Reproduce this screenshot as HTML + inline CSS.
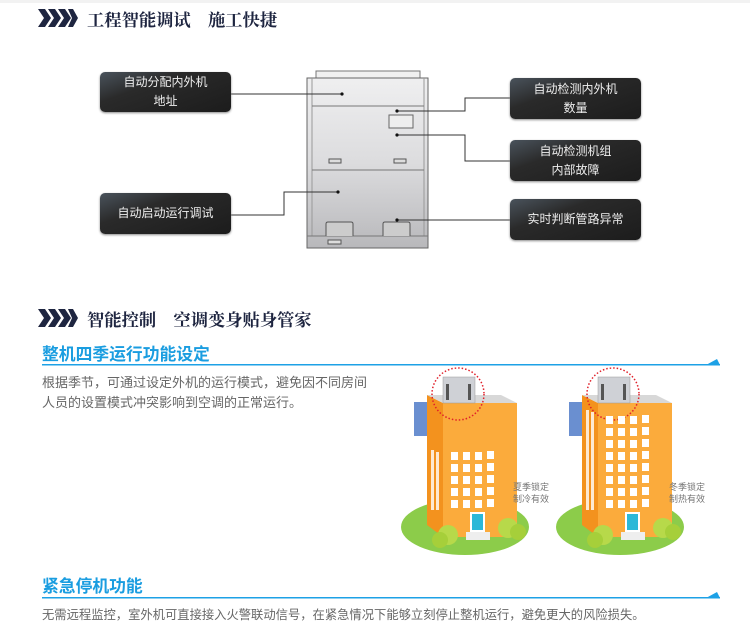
<!DOCTYPE html>
<html><head><meta charset="utf-8"><style>
body{margin:0;width:750px;height:631px;background:#fff;position:relative;overflow:hidden;font-family:"Liberation Sans","Noto Sans CJK SC",sans-serif}
.t{position:absolute;font-family:"Liberation Serif","Noto Serif CJK SC",serif;font-weight:bold;font-size:17.3px;color:#1e2540;white-space:nowrap}
.box{position:absolute;width:131px;border-radius:5px;background:linear-gradient(160deg,#4a535c 0%,#2a2a2a 35%,#1c1c1c 100%);color:#eee;font-size:12px;text-align:center;line-height:19px;display:flex;align-items:center;justify-content:center;box-shadow:0 1px 2px #888}
.sub{position:absolute;left:42px;font-size:16.8px;font-weight:bold;color:#1a9de0;white-space:nowrap}
.p{position:absolute;left:42px;font-size:13px;color:#666;white-space:nowrap}
.sm{position:absolute;font-size:9px;color:#777;line-height:12px}
</style></head><body>
<div style="position:absolute;left:0;top:0;width:750px;height:3px;background:#f2f2f2"></div>
<svg width="750" height="631" style="position:absolute;left:0;top:0">
<g fill="#1e2540">
<polygon points="38,9 45,9 51,18 45,27 38,27 44,18"/><polygon points="48,9 55,9 61,18 55,27 48,27 54,18"/><polygon points="58,9 65,9 71,18 65,27 58,27 64,18"/><polygon points="68,9 73,9 78,18 73,27 68,27 72,18"/>
<polygon points="38,309 45,309 51,318 45,327 38,327 44,318"/><polygon points="48,309 55,309 61,318 55,327 48,327 54,318"/><polygon points="58,309 65,309 71,318 65,327 58,327 64,318"/><polygon points="68,309 73,309 78,318 73,327 68,327 72,318"/>
</g>
<defs><linearGradient id="ug" x1="0" y1="0" x2="0" y2="1"><stop offset="0" stop-color="#efeff0"/><stop offset="0.5" stop-color="#dcdcde"/><stop offset="1" stop-color="#b8b8bb"/></linearGradient></defs>
<rect x="316" y="71" width="104" height="7" fill="#f0f0f0" stroke="#777"/>
<rect x="307" y="78" width="121" height="170" fill="url(#ug)" stroke="#666"/>
<line x1="312" y1="78" x2="312" y2="236" stroke="#999"/><line x1="424" y1="78" x2="424" y2="236" stroke="#999"/>
<line x1="312" y1="106" x2="424" y2="106" stroke="#777"/><line x1="312" y1="170" x2="424" y2="170" stroke="#777"/>
<line x1="307" y1="236" x2="428" y2="236" stroke="#777"/>
<rect x="389" y="115" width="24" height="13" fill="#eee" stroke="#666"/>
<rect x="329" y="159" width="12" height="4" fill="#ddd" stroke="#555"/><rect x="394" y="159" width="12" height="4" fill="#ddd" stroke="#555"/>
<path d="M326,236 V224 Q326,222 328,222 H351 Q353,222 353,224 V236" fill="#ccc" stroke="#555"/>
<path d="M383,236 V224 Q383,222 385,222 H408 Q410,222 410,224 V236" fill="#ccc" stroke="#555"/>
<rect x="328" y="240" width="13" height="4" fill="#ddd" stroke="#555"/>
<g stroke="#333" stroke-width="1" fill="none">
<polyline points="231,94 342,94"/>
<polyline points="397,111 465,111 465,98 510,98"/>
<polyline points="397,135 465,135 465,161 510,161"/>
<polyline points="231,215 284,215 284,192 338,192"/>
<polyline points="397,220 510,220"/>
</g>
<g fill="#111"><circle cx="342" cy="94" r="1.6"/><circle cx="397" cy="111" r="1.6"/><circle cx="397" cy="135" r="1.6"/><circle cx="338" cy="192" r="1.6"/><circle cx="397" cy="220" r="1.6"/></g>
<g fill="#1da1e6"><rect x="42" y="364" width="678" height="1.5"/><polygon points="706,365 717,359 720,365"/>
<rect x="42" y="597" width="678" height="1.5"/><polygon points="706,598 717,592 720,598"/></g>
<g id="b1">
<ellipse cx="465" cy="527" rx="64" ry="28" fill="#8ccc4a"/>
<rect x="414" y="402" width="13" height="34" fill="#6a8fd0"/>
<polygon points="427,395 443,403 443,537 427,525" fill="#f3921e"/>
<polygon points="427,395 501,395 517,403 443,403" fill="#d8d8d8"/>
<rect x="443" y="403" width="74" height="134" fill="#fbab3c"/>
<rect x="443" y="377" width="32" height="26" fill="#cfd1d6" stroke="#999" stroke-width="0.5"/>
<rect x="446" y="384" width="3" height="16" fill="#555"/><rect x="468" y="384" width="3" height="16" fill="#555"/>
<circle cx="458" cy="394" r="26" fill="none" stroke="#e0202a" stroke-width="1.5" stroke-dasharray="1.5,2"/>
<g fill="#fff"><rect x="451" y="452" width="7" height="8"/><rect x="463" y="452" width="7" height="8"/><rect x="475" y="452" width="7" height="8"/><rect x="487" y="451" width="7" height="8"/>
<rect x="451" y="464" width="7" height="8"/><rect x="463" y="464" width="7" height="8"/><rect x="475" y="464" width="7" height="8"/><rect x="487" y="463" width="7" height="8"/>
<rect x="451" y="476" width="7" height="8"/><rect x="463" y="476" width="7" height="8"/><rect x="475" y="476" width="7" height="8"/><rect x="487" y="475" width="7" height="8"/>
<rect x="451" y="488" width="7" height="8"/><rect x="463" y="488" width="7" height="8"/><rect x="475" y="488" width="7" height="8"/><rect x="487" y="487" width="7" height="8"/>
<rect x="451" y="500" width="7" height="8"/><rect x="463" y="500" width="7" height="8"/><rect x="475" y="500" width="7" height="8"/><rect x="487" y="499" width="7" height="8"/>
<rect x="431" y="450" width="3" height="60" opacity="0.8"/><rect x="436" y="452" width="3" height="58" opacity="0.8"/></g>
<rect x="470" y="512" width="15" height="20" fill="#fff"/><rect x="472" y="514" width="11" height="16" fill="#2bb8d8"/>
<rect x="466" y="532" width="24" height="8" fill="#eee"/>
<circle cx="448" cy="535" r="10" fill="#b7d94a"/><circle cx="440" cy="540" r="8" fill="#a6cf3a"/>
<circle cx="508" cy="528" r="10" fill="#b7d94a"/><circle cx="518" cy="532" r="8" fill="#a6cf3a"/>
</g>
<g transform="translate(155,0)">
<ellipse cx="465" cy="527" rx="64" ry="28" fill="#8ccc4a"/>
<rect x="414" y="402" width="13" height="34" fill="#6a8fd0"/>
<polygon points="427,395 443,403 443,537 427,525" fill="#f3921e"/>
<polygon points="427,395 501,395 517,403 443,403" fill="#d8d8d8"/>
<rect x="443" y="403" width="74" height="134" fill="#fbab3c"/>
<rect x="443" y="377" width="32" height="26" fill="#cfd1d6" stroke="#999" stroke-width="0.5"/>
<rect x="446" y="384" width="3" height="16" fill="#555"/><rect x="468" y="384" width="3" height="16" fill="#555"/>
<circle cx="458" cy="394" r="26" fill="none" stroke="#e0202a" stroke-width="1.5" stroke-dasharray="1.5,2"/>
<g fill="#fff">
<rect x="451" y="416" width="7" height="8"/><rect x="463" y="416" width="7" height="8"/><rect x="475" y="416" width="7" height="8"/><rect x="487" y="415" width="7" height="8"/>
<rect x="451" y="428" width="7" height="8"/><rect x="463" y="428" width="7" height="8"/><rect x="475" y="428" width="7" height="8"/><rect x="487" y="427" width="7" height="8"/>
<rect x="451" y="440" width="7" height="8"/><rect x="463" y="440" width="7" height="8"/><rect x="475" y="440" width="7" height="8"/><rect x="487" y="439" width="7" height="8"/>
<rect x="451" y="452" width="7" height="8"/><rect x="463" y="452" width="7" height="8"/><rect x="475" y="452" width="7" height="8"/><rect x="487" y="451" width="7" height="8"/>
<rect x="451" y="464" width="7" height="8"/><rect x="463" y="464" width="7" height="8"/><rect x="475" y="464" width="7" height="8"/><rect x="487" y="463" width="7" height="8"/>
<rect x="451" y="476" width="7" height="8"/><rect x="463" y="476" width="7" height="8"/><rect x="475" y="476" width="7" height="8"/><rect x="487" y="475" width="7" height="8"/>
<rect x="451" y="488" width="7" height="8"/><rect x="463" y="488" width="7" height="8"/><rect x="475" y="488" width="7" height="8"/><rect x="487" y="487" width="7" height="8"/>
<rect x="451" y="500" width="7" height="8"/><rect x="463" y="500" width="7" height="8"/><rect x="475" y="500" width="7" height="8"/><rect x="487" y="499" width="7" height="8"/>
<rect x="431" y="410" width="3" height="100" opacity="0.8"/><rect x="436" y="412" width="3" height="98" opacity="0.8"/></g>
<rect x="470" y="512" width="15" height="20" fill="#fff"/><rect x="472" y="514" width="11" height="16" fill="#2bb8d8"/>
<rect x="466" y="532" width="24" height="8" fill="#eee"/>
<circle cx="448" cy="535" r="10" fill="#b7d94a"/><circle cx="440" cy="540" r="8" fill="#a6cf3a"/>
<circle cx="508" cy="528" r="10" fill="#b7d94a"/><circle cx="518" cy="532" r="8" fill="#a6cf3a"/>
</g>
</svg>
<div class="t" style="left:87px;top:6px">工程智能调试　施工快捷</div>
<div class="t" style="left:87px;top:306px">智能控制　空调变身贴身管家</div>
<div class="box" style="left:100px;top:72px;height:40px">自动分配内外机<br>地址</div>
<div class="box" style="left:100px;top:193px;height:41px">自动启动运行调试</div>
<div class="box" style="left:510px;top:78px;height:41px">自动检测内外机<br>数量</div>
<div class="box" style="left:510px;top:140px;height:41px">自动检测机组<br>内部故障</div>
<div class="box" style="left:510px;top:199px;height:41px">实时判断管路异常</div>
<div class="sub" style="top:341px">整机四季运行功能设定</div>
<div class="p" style="top:372px">根据季节，可通过设定外机的运行模式，避免因不同房间</div>
<div class="p" style="top:392px">人员的设置模式冲突影响到空调的正常运行。</div>
<div class="sm" style="left:513px;top:481px">夏季锁定<br>制冷有效</div>
<div class="sm" style="left:669px;top:481px">冬季锁定<br>制热有效</div>
<div class="sub" style="top:573px">紧急停机功能</div>
<div class="p" style="top:605px;font-size:12.3px">无需远程监控，室外机可直接接入火警联动信号，在紧急情况下能够立刻停止整机运行，避免更大的风险损失。</div>
</body></html>
